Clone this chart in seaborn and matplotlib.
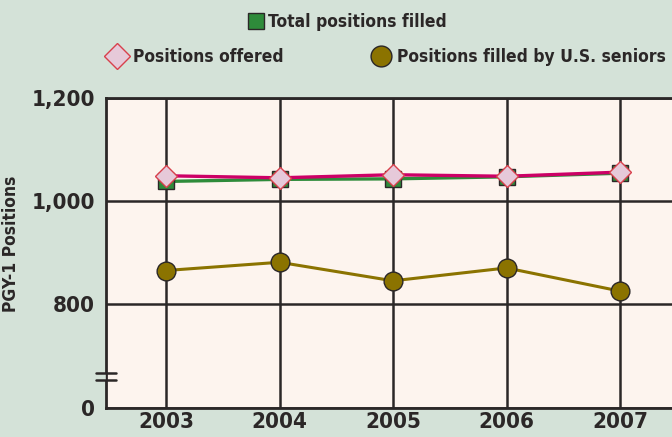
import matplotlib
matplotlib.use("Agg")
import matplotlib.pyplot as plt
from matplotlib.lines import Line2D
import pandas as pd
import seaborn as sns

# data
years = [2003, 2004, 2005, 2006, 2007]
offered = [1049, 1045, 1051, 1048, 1056]
total_filled = [1038, 1042, 1043, 1047, 1054]
us_seniors = [865, 881, 845, 870, 825]

ytick_vals = [598, 800, 1000, 1200]   # 0 sits below the axis break
ytick_labels = ["0", "800", "1,000", "1,200"]

df = pd.DataFrame({"year": years, "offered": offered,
                   "total": total_filled, "seniors": us_seniors})

bg = "#d4e2d8"
panel = "#fdf4ee"
dark = "#2b2727"
green = "#2e8b3a"
magenta = "#cc0066"
olive = "#8b7300"

sns.set_style("white")
plt.rcParams["font.family"] = ["DejaVu Sans"]
plt.rcParams["font.stretch"] = "condensed"
plt.rcParams["font.weight"] = "bold"

fig = plt.figure(figsize=(6.72, 4.37), dpi=100, facecolor=bg)
ax = fig.add_axes([106 / 672, 29 / 437, 574 / 672, 310 / 437])
ax.set_facecolor(panel)

sns.lineplot(data=df, x="year", y="total", ax=ax, color=green, lw=2.4,
             marker="s", markersize=11.5, markerfacecolor=green,
             markeredgecolor=dark, markeredgewidth=1, zorder=3)
sns.lineplot(data=df, x="year", y="offered", ax=ax, color=magenta, lw=2.4,
             marker="D", markersize=11, markerfacecolor="#e6c9d9",
             markeredgecolor="#d8404c", markeredgewidth=1, zorder=4)
sns.lineplot(data=df, x="year", y="seniors", ax=ax, color=olive, lw=2.2,
             marker="o", markersize=13.5, markerfacecolor=olive,
             markeredgecolor=dark, markeredgewidth=1, zorder=4)

ax.set_xlim(2003 - 60 / 113.5, 2007 + 60 / 113.5)
ax.set_ylim(598, 1200)
ax.set_xticks(years)
ax.set_xticklabels([str(y) for y in years])
ax.set_yticks(ytick_vals)
ax.set_yticklabels(ytick_labels)
ax.grid(True, color=dark, lw=1.8, zorder=1)
ax.set_axisbelow(True)
ax.tick_params(length=0, labelsize=16, colors=dark, pad=3)
ax.tick_params(axis="y", pad=8)
for lab in ax.get_xticklabels() + ax.get_yticklabels():
    lab.set_fontweight("bold")
for s in ["left", "bottom", "top"]:
    ax.spines[s].set_color(dark)
    ax.spines[s].set_linewidth(2)
ax.spines["right"].set_visible(False)
ax.set_xlabel("")
ax.set_ylabel("PGY-1 Positions", fontsize=12.5, fontweight="bold", color=dark)
ax.yaxis.set_label_coords(-86 / 574, (408 - 244) / 310)

# axis break marks on the left spine
yb1, yb2 = (408 - 373) / 310, (408 - 380) / 310
ax.plot([-0.005, -0.005], [yb2, yb1], color=bg, lw=4, transform=ax.transAxes,
        clip_on=False, zorder=6, solid_capstyle="butt")
for yb in (yb1, yb2):
    ax.plot([-10 / 574, 10 / 574], [yb, yb], color=dark, lw=1.8,
            transform=ax.transAxes, clip_on=False, zorder=7)

# legend
h_total = Line2D([], [], ls="none", marker="s", markersize=11.5,
                 markerfacecolor=green, markeredgecolor=dark, markeredgewidth=1)
h_off = Line2D([], [], ls="none", marker="D", markersize=13,
               markerfacecolor="#e6c9d9", markeredgecolor="#d8404c", markeredgewidth=1)
h_sen = Line2D([], [], ls="none", marker="o", markersize=15,
               markerfacecolor=olive, markeredgecolor=dark, markeredgewidth=1)
leg_font = {"size": 12.5, "weight": "bold", "stretch": "condensed"}
fig.legend([h_total], ["Total positions filled"], loc="center",
           bbox_to_anchor=(347 / 672, 1 - 22 / 437), frameon=False,
           prop=leg_font, handletextpad=0.2, handlelength=1.0,
           labelcolor=dark)
fig.legend([h_off, h_sen], ["Positions offered", "Positions filled by U.S. seniors"],
           loc="center", bbox_to_anchor=(387 / 672, 1 - 57 / 437), frameon=False,
           prop=leg_font, ncol=2, handletextpad=0.45, handlelength=1.0,
           columnspacing=5.1, labelcolor=dark)

fig.savefig("out.png", dpi=100, facecolor=bg)
